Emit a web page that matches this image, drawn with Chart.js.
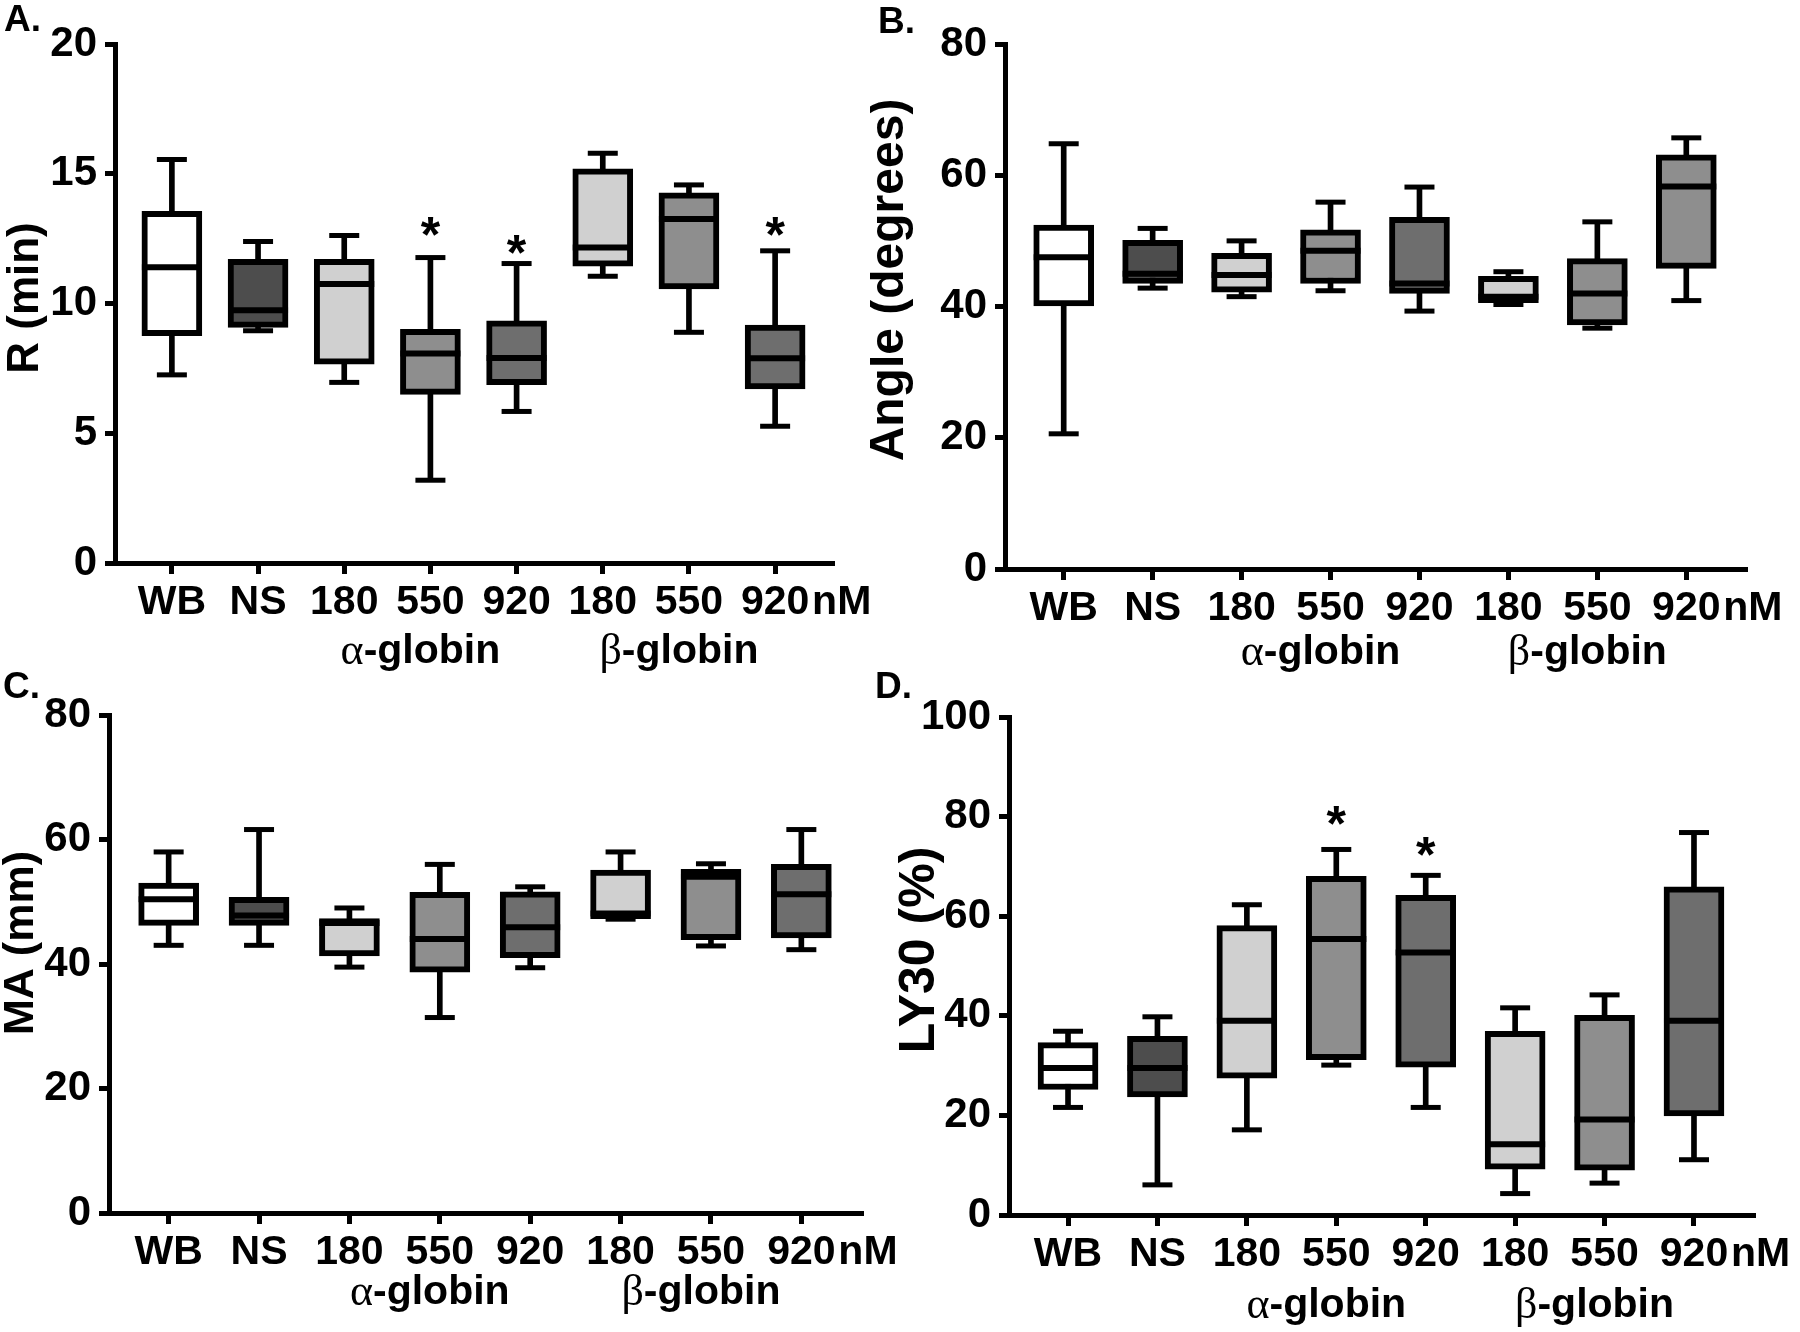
<!DOCTYPE html>
<html>
<head>
<meta charset="utf-8">
<script src="https://cdn.jsdelivr.net/npm/chart.js@4.4.1/dist/chart.umd.min.js"></script>
<style>
  body { margin: 0; background: #fff; }
  #quadro { position: relative; width: 1800px; height: 1332px; background: #fff; }
  canvas { position: absolute; }
</style>
</head>
<body>
<div id="quadro">
  <canvas id="painelA" width="900" height="700" style="left:0;top:0"></canvas>
  <canvas id="painelB" width="930" height="700" style="left:870px;top:0"></canvas>
  <canvas id="painelC" width="900" height="666" style="left:0;top:666px"></canvas>
  <canvas id="painelD" width="930" height="666" style="left:870px;top:666px"></canvas>
</div>
<script>
// categorias do eixo x (iguais nos quatro painéis)
const categorias = ['WB', 'NS', '180', '550', '920', '180', '550', '920'];

// A. R (min)
const rMin = [7.25, 8.95, 6.96, 3.19, 5.84, 11.05, 8.89, 5.27];
const rQ1 = [8.76, 9.08, 7.66, 6.5, 6.87, 11.44, 10.56, 6.71];
const rMed = [11.4, 9.74, 10.75, 8.07, 7.9, 12.16, 13.26, 7.89];
const rQ3 = [13.55, 11.7, 11.7, 9.0, 9.33, 15.19, 14.26, 9.17];
const rMax = [15.55, 12.39, 12.62, 11.77, 11.54, 15.79, 14.57, 12.03];
const rEstrelas = [null, null, null, 13.1, 12.4, null, null, 13.1];

// B. Angle (degrees)
const aMin = [20.6, 42.8, 41.5, 42.4, 39.3, 40.3, 36.7, 40.9];
const aQ1 = [40.1, 43.5, 42.2, 43.5, 42.0, 40.6, 37.2, 45.8];
const aMed = [47.5, 45.0, 44.8, 48.5, 43.5, 41.5, 42.0, 58.3];
const aQ3 = [52.4, 50.1, 48.1, 51.7, 53.6, 44.6, 47.3, 63.1];
const aMax = [64.8, 51.9, 50.0, 55.9, 58.2, 45.3, 52.9, 65.7];

// C. MA (mm)
const mMin = [43.0, 43.0, 39.5, 31.4, 39.4, 47.2, 42.9, 42.3];
const mQ1 = [46.2, 46.2, 41.3, 38.7, 41.0, 47.3, 43.9, 44.2];
const mMed = [50.4, 47.8, 46.6, 44.0, 45.9, 48.1, 54.0, 51.2];
const mQ3 = [53.0, 50.7, 47.3, 51.5, 51.6, 55.1, 55.2, 56.0];
const mMax = [58.0, 61.6, 49.0, 56.0, 52.4, 58.0, 56.1, 61.6];

// D. LY30 (%)
const lMin = [21.6, 6.05, 17.1, 30.1, 21.6, 4.3, 6.4, 11.1];
const lQ1 = [25.2, 23.7, 27.5, 31.2, 29.7, 9.2, 9.0, 19.9];
const lMed = [29.5, 29.5, 39.0, 55.4, 52.7, 14.2, 19.2, 39.0];
const lQ3 = [34.6, 35.9, 58.1, 68.0, 64.2, 36.9, 40.1, 65.9];
const lMax = [36.9, 39.8, 62.3, 73.4, 68.2, 41.6, 44.2, 76.8];
const lEstrelas = [null, null, null, 80.9, 74.7, null, null, null];

// tons de cinza das caixas
const coresPadrao = ['#ffffff', '#4d4d4d', '#d0d0d0', '#8e8e8e', '#6e6e6e', '#d0d0d0', '#8e8e8e', '#6e6e6e'];
const coresB = ['#ffffff', '#4d4d4d', '#d0d0d0', '#8e8e8e', '#6e6e6e', '#d0d0d0', '#8e8e8e', '#8e8e8e'];

const FONTE = '"Liberation Sans", Arial, sans-serif';
Chart.defaults.font.family = FONTE;
Chart.defaults.font.weight = 'bold';
Chart.defaults.color = '#000';

function criarPainel(id, p) {
    const ctx = document.getElementById(id).getContext('2d');

    const bigodes = p.min.map((v, i) => ({ x: i, y: [v, p.max[i]] }));
    const caixas = p.q1.map((v, i) => ({ x: i, y: [v, p.q3[i]] }));

    // medianas, extremos dos bigodes, asteriscos e textos extras
    const extras = {
        id: 'extras',
        afterDatasetsDraw(chart) {
            const c = chart.ctx;
            const x = chart.scales.x;
            const y = chart.scales.y;
            c.save();
            c.strokeStyle = '#000';
            c.lineCap = 'butt';
            for (let i = 0; i < categorias.length; i++) {
                const px = x.getPixelForValue(i);
                c.lineWidth = 5;
                [p.min[i], p.max[i]].forEach(v => {
                    const py = y.getPixelForValue(v);
                    c.beginPath();
                    c.moveTo(px - 15, py);
                    c.lineTo(px + 15, py);
                    c.stroke();
                });
                c.lineWidth = 6;
                const pm = y.getPixelForValue(p.med[i]);
                c.beginPath();
                c.moveTo(px - 30, pm);
                c.lineTo(px + 30, pm);
                c.stroke();
            }
            if (p.estrelas) {
                c.fillStyle = '#000';
                c.font = 'bold 50px ' + FONTE;
                c.textAlign = 'center';
                c.textBaseline = 'alphabetic';
                p.estrelas.forEach((v, i) => {
                    if (v === null) return;
                    c.fillText('*', x.getPixelForValue(i), y.getPixelForValue(v) + 29);
                });
            }
            c.restore();
        },
        afterDraw(chart) {
            const c = chart.ctx;
            const x = chart.scales.x;
            const base = chart.chartArea.bottom;
            c.save();
            c.fillStyle = '#000';

            // nM depois do último rótulo
            c.font = 'bold 41px ' + FONTE;
            c.textAlign = 'left';
            c.textBaseline = 'middle';
            c.fillText('nM', x.getPixelForValue(7) + 37, base + 40);

            // α-globin / β-globin
            [['\u03b1', 3], ['\u03b2', 6]].forEach(([grego, idx]) => {
                c.font = '44px "Liberation Serif", serif';
                const wg = c.measureText(grego).width;
                c.font = 'bold 41px ' + FONTE;
                const wr = c.measureText('-globin').width;
                let xi = x.getPixelForValue(idx) - 10 - (wg + wr) / 2;
                c.textAlign = 'left';
                c.font = '44px "Liberation Serif", serif';
                c.fillText(grego, xi, p.globinY);
                c.font = 'bold 41px ' + FONTE;
                c.fillText('-globin', xi + wg, p.globinY);
            });

            // título do eixo y
            c.save();
            c.translate(p.tituloX, p.tituloY);
            c.rotate(-Math.PI / 2);
            c.font = 'bold ' + p.tituloTam + 'px ' + FONTE;
            c.textAlign = 'center';
            c.textBaseline = 'middle';
            c.fillText(p.titulo, 0, 0);
            c.restore();

            // letra do painel
            c.font = 'bold 37px ' + FONTE;
            c.textAlign = 'left';
            c.textBaseline = 'alphabetic';
            c.fillText(p.letra, p.letraX, p.letraY);
            c.restore();
        }
    };

    return new Chart(ctx, {
        type: 'bar',
        data: {
            datasets: [
                {
                    data: bigodes,
                    backgroundColor: '#000',
                    barThickness: 5,
                    grouped: false,
                    order: 2
                },
                {
                    data: caixas,
                    backgroundColor: p.cores,
                    borderColor: '#000',
                    borderWidth: 6,
                    borderSkipped: false,
                    barThickness: 60,
                    grouped: false,
                    order: 1
                }
            ]
        },
        options: {
            responsive: false,
            animation: false,
            layout: { padding: p.padding },
            plugins: {
                legend: { display: false },
                tooltip: { enabled: false }
            },
            scales: {
                x: {
                    type: 'linear',
                    min: -0.66,
                    max: 7.66,
                    offset: false,
                    afterBuildTicks: s => { s.ticks = categorias.map((c, i) => ({ value: i })); },
                    afterFit: s => { s.height = p.alturaX; },
                    ticks: {
                        callback: v => categorias[v],
                        font: { size: 41 },
                        padding: 4,
                        autoSkip: false,
                        maxRotation: 0
                    },
                    grid: { offset: false, drawOnChartArea: false, tickLength: 11, lineWidth: 5, color: '#000' },
                    border: { width: 5, color: '#000' }
                },
                y: {
                    min: 0,
                    max: p.yMax,
                    afterFit: s => { s.width = p.larguraY; },
                    ticks: { stepSize: p.passo, font: { size: 42 }, padding: 8 },
                    grid: { drawOnChartArea: false, tickLength: 10, lineWidth: 5, color: '#000' },
                    border: { width: 5, color: '#000' }
                }
            }
        },
        plugins: [extras]
    });
}

criarPainel('painelA', {
    min: rMin, q1: rQ1, med: rMed, q3: rQ3, max: rMax, estrelas: rEstrelas,
    cores: coresPadrao, yMax: 20, passo: 5,
    padding: { left: 0, top: 44, right: 68, bottom: 0 }, larguraY: 115, alturaX: 137,
    globinY: 652,
    titulo: 'R (min)', tituloTam: 44, tituloX: 26, tituloY: 298,
    letra: 'A.', letraX: 4, letraY: 31
});

criarPainel('painelB', {
    min: aMin, q1: aQ1, med: aMed, q3: aQ3, max: aMax, estrelas: null,
    cores: coresB, yMax: 80, passo: 20,
    padding: { left: 0, top: 44, right: 55, bottom: 0 }, larguraY: 135, alturaX: 131,
    globinY: 653,
    titulo: 'Angle (degrees)', tituloTam: 48, tituloX: 20, tituloY: 280,
    letra: 'B.', letraX: 8, letraY: 33
});

criarPainel('painelC', {
    min: mMin, q1: mQ1, med: mMed, q3: mQ3, max: mMax, estrelas: null,
    cores: coresPadrao, yMax: 80, passo: 20,
    padding: { left: 0, top: 49, right: 39, bottom: 0 }, larguraY: 109, alturaX: 119,
    globinY: 627,
    titulo: 'MA (mm)', tituloTam: 43, tituloX: 21, tituloY: 277,
    letra: 'C.', letraX: 3, letraY: 32
});

criarPainel('painelD', {
    min: lMin, q1: lQ1, med: lMed, q3: lQ3, max: lMax, estrelas: lEstrelas,
    cores: coresPadrao, yMax: 100, passo: 20,
    padding: { left: 0, top: 51, right: 47, bottom: 0 }, larguraY: 139, alturaX: 117,
    globinY: 640,
    titulo: 'LY30 (%)', tituloTam: 50, tituloX: 50, tituloY: 284,
    letra: 'D.', letraX: 5, letraY: 32
});
</script>
</body>
</html>
